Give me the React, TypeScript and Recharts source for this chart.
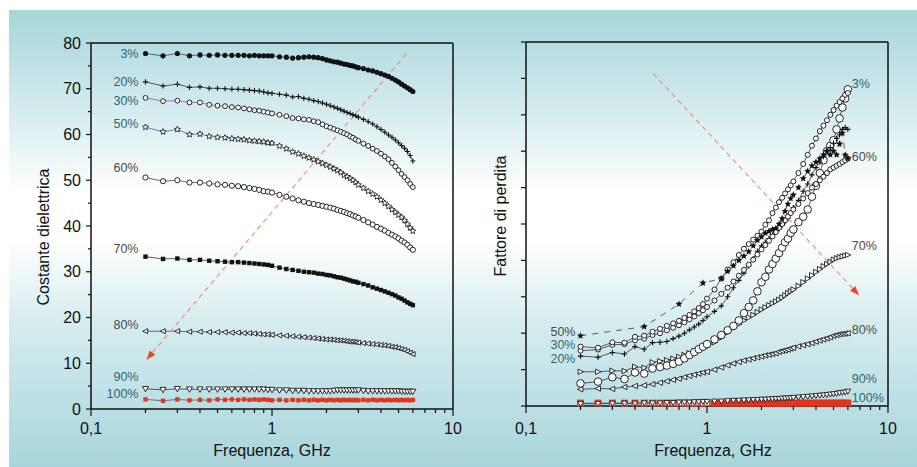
import { LineChart, Line, XAxis, YAxis, ReferenceLine, ReferenceDot } from 'recharts';

// frequencies (GHz)
const F = [
  0.2, 0.25, 0.3, 0.35, 0.4, 0.45, 0.5, 0.55, 0.6, 0.65, 0.7, 0.75, 0.8, 0.85, 0.9, 0.95, 1.0,
  1.1, 1.2, 1.3, 1.4, 1.5, 1.6, 1.7, 1.8, 1.9, 2.0, 2.1, 2.2, 2.3, 2.4, 2.5, 2.6, 2.7, 2.8, 2.9, 3.0,
  3.2, 3.4, 3.6, 3.8, 4.0, 4.2, 4.4, 4.6, 4.8, 5.0, 5.2, 5.4, 5.6, 5.8, 6.0,
];

// costante dielettrica
const EPS_3 = [
  77.7, 77.2, 77.7, 77.2, 77.4, 77.3, 77.4, 77.3, 77.3, 77.3, 77.3, 77.2, 77.3, 77.2, 77.2, 77.2, 77.2,
  77.0, 76.9, 76.7, 76.8, 76.9, 77.0, 76.9, 76.8, 76.6, 76.3, 76.1, 75.9, 75.8, 75.6, 75.4, 75.3, 75.1, 75.0, 74.8, 74.6,
  74.4, 74.1, 73.9, 73.6, 73.3, 73.0, 72.7, 72.3, 71.9, 71.5, 71.0, 70.6, 70.2, 69.8, 69.4,
];
const EPS_20 = [
  71.5, 70.6, 71.0, 70.3, 70.4, 70.1, 70.1, 70.0, 69.9, 69.9, 69.8, 69.7, 69.6, 69.5, 69.3, 69.1, 69.0,
  68.8, 68.6, 68.2, 68.3, 67.9, 67.7, 67.4, 67.2, 66.9, 66.6, 66.3, 66.0, 65.7, 65.4, 65.1, 64.8, 64.6, 64.3, 64.1, 63.8,
  63.3, 62.8, 62.3, 61.7, 61.1, 60.5, 59.9, 59.4, 58.8, 58.2, 57.6, 57.0, 56.3, 55.4, 54.2,
];
const EPS_30 = [
  68.0, 67.3, 67.4, 67.0, 67.0, 66.5, 66.3, 66.2, 66.0, 65.9, 65.7, 65.5, 65.3, 65.2, 65.0, 64.8, 64.6,
  64.3, 64.0, 63.6, 63.5, 63.3, 63.2, 62.9, 62.7, 62.2, 61.8, 61.5, 61.2, 60.9, 60.6, 60.3, 60.0, 59.6, 59.3, 58.9, 58.6,
  58.0, 57.5, 56.9, 56.4, 55.8, 55.2, 54.6, 53.8, 53.0, 52.2, 51.4, 50.7, 50.0, 49.2, 48.5,
];
const EPS_50 = [
  61.6, 60.6, 61.1, 60.0, 60.1, 59.6, 59.4, 59.3, 59.1, 59.0, 58.9, 58.7, 58.6, 58.5, 58.4, 58.2, 58.1,
  57.5, 56.9, 56.2, 55.8, 55.3, 54.9, 54.5, 54.1, 53.7, 53.3, 52.9, 52.5, 52.1, 51.7, 51.1, 50.8, 50.4, 50.0, 49.5, 49.0,
  48.3, 47.6, 47.0, 46.4, 45.7, 45.0, 44.3, 43.6, 43.0, 42.4, 41.9, 41.2, 40.4, 39.6, 38.9,
];
const EPS_60 = [
  50.6, 49.8, 50.0, 49.5, 49.5, 49.3, 49.1, 49.0, 48.8, 48.7, 48.5, 48.3, 48.1, 47.9, 47.6, 47.5, 47.3,
  46.8, 46.4, 46.0, 45.6, 45.3, 45.0, 44.8, 44.6, 44.4, 44.2, 44.0, 43.8, 43.5, 43.3, 43.1, 42.8, 42.6, 42.3, 42.1, 41.8,
  41.3, 40.8, 40.3, 39.8, 39.4, 39.0, 38.5, 38.1, 37.7, 37.3, 36.8, 36.4, 35.9, 35.3, 34.8,
];
const EPS_70 = [
  33.3, 32.8, 32.9, 32.6, 32.6, 32.4, 32.3, 32.2, 32.1, 32.1, 32.0, 31.9, 31.8, 31.7, 31.6, 31.5, 31.3,
  30.9, 30.6, 30.4, 30.2, 30.0, 29.9, 29.8, 29.6, 29.5, 29.3, 29.2, 29.0, 28.8, 28.7, 28.5, 28.3, 28.1, 27.9, 27.8, 27.6,
  27.3, 27.0, 26.6, 26.3, 26.0, 25.7, 25.4, 25.1, 24.8, 24.4, 24.1, 23.7, 23.3, 23.0, 22.7,
];
const EPS_80 = [
  17.0, 17.0, 17.0, 16.9, 16.9, 16.8, 16.8, 16.8, 16.7, 16.7, 16.6, 16.6, 16.5, 16.4, 16.3, 16.3, 16.2,
  16.1, 16.0, 15.9, 15.8, 15.7, 15.6, 15.5, 15.4, 15.3, 15.2, 15.2, 15.1, 15.0, 15.0, 14.9, 14.8, 14.7, 14.7, 14.6, 14.5,
  14.4, 14.3, 14.2, 14.1, 14.0, 13.9, 13.8, 13.6, 13.5, 13.3, 13.1, 12.9, 12.6, 12.3, 12.0,
];
const EPS_90 = [
  4.4, 4.2, 4.4, 4.3, 4.3, 4.3, 4.3, 4.3, 4.3, 4.3, 4.3, 4.3, 4.3, 4.3, 4.3, 4.2, 4.2,
  4.1, 4.1, 4.0, 4.0, 4.0, 3.9, 3.9, 3.9, 3.9, 3.9, 3.9, 4.0, 4.1, 4.1, 4.1, 4.1, 4.1, 4.1, 4.1, 4.1,
  4.0, 3.9, 3.9, 3.9, 3.9, 3.9, 3.9, 3.9, 3.9, 3.9, 3.8, 3.8, 3.8, 3.8, 3.8,
];
const EPS_100 = [
  2.1, 1.8, 2.1, 1.9, 2.0, 1.9, 2.1, 2.0, 2.1, 2.0, 2.1, 2.0, 2.1, 2.0, 2.1, 2.0, 1.9,
  2.0, 1.9, 2.0, 1.9, 2.0, 1.9, 2.0, 1.9, 2.0, 1.9, 2.0, 1.9, 2.0, 1.9, 2.0, 1.9, 2.0, 1.9, 2.0, 1.9,
  2.0, 1.9, 2.0, 1.9, 2.0, 1.9, 2.0, 1.9, 2.0, 1.9, 2.0, 1.9, 2.0, 1.9, 2.0,
];

// fattore di perdita (scala arbitraria 0-10)
const LOSS_3 = [
  0.62, 0.67, 0.79, 0.74, 0.92, 0.89, 1.03, 1.07, 1.11, 1.16, 1.22, 1.31, 1.4, 1.48, 1.56, 1.63, 1.7,
  1.83, 1.95, 2.08, 2.2, 2.35, 2.55, 2.72, 2.9, 3.15, 3.4, 3.55, 3.75, 3.9, 4.05, 4.2, 4.35, 4.5, 4.6, 4.75, 4.85,
  5.05, 5.2, 5.4, 5.75, 6.05, 6.4, 6.75, 7.0, 7.15, 7.3, 7.6, 7.9, 8.2, 8.45, 8.7,
];
const LOSS_20 = [
  1.37, 1.34, 1.47, 1.43, 1.63, 1.56, 1.74, 1.75, 1.77, 1.85, 1.92, 2.0, 2.09, 2.17, 2.25, 2.35, 2.45,
  2.6, 2.75, 3.0, 3.25, 3.45, 3.65, 3.85, 4.05, 4.25, 4.4, 4.5, 4.6, 4.7, 4.78, 4.86, 4.96, 5.06, 5.16, 5.3, 5.45,
  5.65, 5.9, 6.1, 6.35, 6.55, 6.7, 6.85, 7.0, 7.1, 7.22, 7.35, 7.45, 7.6, 7.65, 7.6,
];
const LOSS_30 = [
  1.63, 1.6, 1.75, 1.74, 1.9, 1.93, 2.04, 2.12, 2.2, 2.27, 2.34, 2.42, 2.5, 2.6, 2.69, 2.8, 2.95,
  3.2, 3.5, 3.75, 3.95, 4.15, 4.32, 4.45, 4.57, 4.68, 4.79, 4.98, 5.1, 5.3, 5.45, 5.6, 5.72, 5.84, 5.95, 6.06, 6.17,
  6.4, 6.65, 6.9, 7.15, 7.35, 7.55, 7.7, 7.85, 8.0, 8.13, 8.25, 8.35, 8.45, 8.55, 8.6,
];
const LOSS_50 = [
  1.93, null, null, null, null, 2.18, null, null, null, null, 2.8, null, null, null, null, 3.38, null,
  null, 3.5, 3.7, 3.85, 4.0, 4.12, 4.24, 4.4, 4.55, 4.65, 4.75, 4.8, 4.85, 4.88, 5.0, 5.15, 5.35, 5.55, 5.7, 5.8,
  6.0, 6.25, 6.45, 6.6, 6.7, 6.8, 6.9, 7.0, 6.9, 7.0, 6.9, 7.2, 7.5, 6.9, 6.8,
];
const LOSS_60 = [
  1.52, 1.55, 1.68, 1.7, 1.8, 1.85, 1.95, 2.0, 2.08, 2.15, 2.22, 2.3, 2.38, 2.46, 2.55, 2.63, 2.72,
  2.9, 3.08, 3.25, 3.42, 3.58, 3.74, 3.88, 4.02, 4.16, 4.3, 4.42, 4.54, 4.66, 4.78, 4.9, 5.0, 5.1, 5.2, 5.3, 5.4,
  5.55, 5.7, 5.85, 6.0, 6.1, 6.2, 6.3, 6.4, 6.5, 6.55, 6.6, 6.65, 6.7, 6.75, 6.8,
];
const LOSS_70 = [
  0.94, 0.94, 0.97, 0.96, 1.08, 1.05, 1.2, 1.23, 1.26, 1.3, 1.35, 1.4, 1.45, 1.5, 1.55, 1.59, 1.63,
  1.75, 1.88, 2.02, 2.15, 2.25, 2.35, 2.43, 2.5, 2.58, 2.65, 2.71, 2.77, 2.82, 2.87, 2.92, 2.98, 3.04, 3.1, 3.15, 3.2,
  3.3, 3.4, 3.5, 3.59, 3.68, 3.76, 3.84, 3.9, 3.96, 4.02, 4.06, 4.09, 4.11, 4.13, 4.15,
];
const LOSS_80 = [
  0.46, 0.48, 0.47, 0.52, 0.55, 0.57, 0.6, 0.64, 0.68, 0.72, 0.75, 0.79, 0.83, 0.86, 0.89, 0.92, 0.94,
  1.0, 1.06, 1.12, 1.17, 1.21, 1.25, 1.28, 1.31, 1.34, 1.36, 1.39, 1.41, 1.43, 1.45, 1.49, 1.51, 1.53, 1.55, 1.58, 1.6,
  1.64, 1.67, 1.7, 1.73, 1.77, 1.8, 1.83, 1.86, 1.89, 1.93, 1.95, 1.97, 1.98, 1.99, 2.0,
];
const LOSS_90 = [
  0.06, 0.06, 0.07, 0.07, 0.07, 0.08, 0.08, 0.08, 0.09, 0.09, 0.1, 0.1, 0.1, 0.11, 0.11, 0.12, 0.12,
  0.13, 0.13, 0.14, 0.15, 0.15, 0.16, 0.16, 0.17, 0.17, 0.18, 0.18, 0.19, 0.19, 0.2, 0.2, 0.21, 0.21, 0.22, 0.22, 0.23,
  0.24, 0.25, 0.26, 0.27, 0.28, 0.29, 0.3, 0.31, 0.32, 0.33, 0.34, 0.36, 0.37, 0.38, 0.4,
];
const LOSS_100 = [
  0.08, 0.08, 0.08, 0.08, 0.08, 0.08, 0.08, 0.08, 0.08, 0.08, 0.08, 0.08, 0.08, 0.08, 0.08, 0.08, 0.08,
  0.08, 0.08, 0.08, 0.08, 0.08, 0.08, 0.08, 0.08, 0.08, 0.08, 0.08, 0.08, 0.08, 0.08, 0.08, 0.08, 0.08, 0.08, 0.08, 0.08,
  0.08, 0.08, 0.08, 0.08, 0.08, 0.08, 0.08, 0.08, 0.08, 0.08, 0.08, 0.08, 0.08, 0.08, 0.08,
];

const X_TICKS = [0.1, 0.2, 0.3, 0.4, 0.5, 0.6, 0.7, 0.8, 0.9, 1, 2, 3, 4, 5, 6, 7, 8, 9, 10];
const X_MAJOR = [0.1, 1, 10];
const EPS_TICKS = [0, 5, 10, 15, 20, 25, 30, 35, 40, 45, 50, 55, 60, 65, 70, 75, 80];
const LOSS_TICKS = [0, 1, 2, 3, 4, 5, 6, 7, 8, 9, 10];

// curve tags (data coordinates)
const EPS_TAGS = [
  { text: '3%', f: 0.2, v: 77.6, side: 'left', tone: 'teal' },
  { text: '20%', f: 0.2, v: 71.5, side: 'left', tone: 'teal' },
  { text: '30%', f: 0.2, v: 67.4, side: 'left', tone: 'teal' },
  { text: '50%', f: 0.2, v: 62.3, side: 'left', tone: 'teal' },
  { text: '60%', f: 0.2, v: 52.7, side: 'left', tone: 'gray' },
  { text: '70%', f: 0.2, v: 35.0, side: 'left', tone: 'gray' },
  { text: '80%', f: 0.2, v: 18.4, side: 'left', tone: 'gray' },
  { text: '90%', f: 0.2, v: 7.1, side: 'left', tone: 'teal' },
  { text: '100%', f: 0.2, v: 3.3, side: 'left', tone: 'teal' },
];
const LOSS_TAGS = [
  { text: '50%', f: 0.2, v: 2.04, side: 'left', tone: 'gray' },
  { text: '30%', f: 0.2, v: 1.68, side: 'left', tone: 'teal' },
  { text: '20%', f: 0.2, v: 1.31, side: 'left', tone: 'teal' },
  { text: '3%', f: 6, v: 8.87, side: 'right', tone: 'teal' },
  { text: '60%', f: 6, v: 6.85, side: 'right', tone: 'gray' },
  { text: '70%', f: 6, v: 4.42, side: 'right', tone: 'gray' },
  { text: '80%', f: 6, v: 2.09, side: 'right', tone: 'gray' },
  { text: '90%', f: 6, v: 0.76, side: 'right', tone: 'teal' },
  { text: '100%', f: 6, v: 0.23, side: 'right', tone: 'teal' },
];

// dashed arrows: [tip, tail]
const EPS_ARROW = [{ x: 0.203, y: 10.8 }, { x: 5.57, y: 77.8 }];
const LOSS_ARROW = [{ x: 6.9, y: 3.05 }, { x: 0.49, y: 9.2 }];

const INK = '#111';
const FONT = '"Liberation Sans", Arial, Helvetica, sans-serif';
const TONES: Record<string, string> = { teal: '#2d6870', gray: '#4a4a4a' };

const epsRows = F.map((f, i) => ({
  f,
  e3: EPS_3[i], e20: EPS_20[i], e30: EPS_30[i], e50: EPS_50[i], e60: EPS_60[i],
  e70: EPS_70[i], e80: EPS_80[i], e90: EPS_90[i], e100: EPS_100[i],
}));
const lossRows = F.map((f, i) => ({
  f,
  l3: LOSS_3[i], l20: LOSS_20[i], l30: LOSS_30[i], l50: LOSS_50[i], l60: LOSS_60[i],
  l70: LOSS_70[i], l80: LOSS_80[i], l90: LOSS_90[i], l100: LOSS_100[i],
}));

function starPath(cx: number, cy: number, R: number) {
  const pts: string[] = [];
  for (let i = 0; i < 10; i++) {
    const rr = i % 2 === 0 ? R : R * 0.45;
    const a = -Math.PI / 2 + (i * Math.PI) / 5;
    pts.push(`${(cx + rr * Math.cos(a)).toFixed(2)},${(cy + rr * Math.sin(a)).toFixed(2)}`);
  }
  return `M${pts.join('L')}Z`;
}

const mark = (shape: string, s: number) => (p: any) => {
  const { cx, cy, index, payload } = p;
  const k = `${shape}-${index}`;
  if (cx == null || cy == null || !isFinite(cx) || !isFinite(cy)) return <g key={k} />;
  switch (shape) {
    case 'dot':
      return <circle key={k} cx={cx} cy={cy} r={s} fill={INK} />;
    case 'circ':
      return <circle key={k} cx={cx} cy={cy} r={s} fill="#fff" stroke="#1a1a1a" strokeWidth={0.95} />;
    case 'plus':
      return <path key={k} d={`M${cx - s},${cy}H${cx + s}M${cx},${cy - s}V${cy + s}`} stroke={INK} strokeWidth={1.1} />;
    case 'starO':
      return <path key={k} d={starPath(cx, cy, s)} fill="#fff" stroke="#1a1a1a" strokeWidth={0.85} />;
    case 'starF':
      return <path key={k} d={starPath(cx, cy, s)} fill={INK} />;
    case 'sq':
      return <rect key={k} x={cx - s} y={cy - s} width={2 * s} height={2 * s} fill={INK} />;
    case 'sqRed':
      return <rect key={k} x={cx - s} y={cy - s} width={2 * s} height={2 * s} fill="#e8341f" />;
    case 'sqRedO': {
      const solid = payload && payload.f >= 1.1;
      return (
        <rect key={k} x={cx - s} y={cy - s} width={2 * s} height={2 * s}
          fill={solid ? '#e8341f' : '#fff'} stroke="#e0301e" strokeWidth={1.3} />
      );
    }
    case 'triL':
      return <path key={k} d={`M${cx - s},${cy}L${cx + s * 0.8},${cy - s * 0.9}L${cx + s * 0.8},${cy + s * 0.9}Z`} fill="#fff" stroke="#1a1a1a" strokeWidth={0.9} />;
    case 'triR':
      return <path key={k} d={`M${cx + s},${cy}L${cx - s * 0.8},${cy - s * 0.9}L${cx - s * 0.8},${cy + s * 0.9}Z`} fill="#fff" stroke="#1a1a1a" strokeWidth={0.9} />;
    case 'triD':
      return <path key={k} d={`M${cx - s},${cy - s * 0.8}L${cx + s},${cy - s * 0.8}L${cx},${cy + s}Z`} fill="#fff" stroke="#1a1a1a" strokeWidth={0.9} />;
    default:
      return <g key={k} />;
  }
};

const EPS_SERIES = [
  { key: 'e100', shape: 'sqRed', size: 2.2, stroke: '#555' },
  { key: 'e90', shape: 'triD', size: 3, stroke: '#333' },
  { key: 'e80', shape: 'triL', size: 2.8, stroke: '#444' },
  { key: 'e70', shape: 'sq', size: 2.2, stroke: '#333' },
  { key: 'e60', shape: 'circ', size: 2.6, stroke: '#444' },
  { key: 'e50', shape: 'starO', size: 3.2, stroke: '#4060a8' },
  { key: 'e30', shape: 'circ', size: 2.4, stroke: '#8c5aa0' },
  { key: 'e20', shape: 'plus', size: 2.6, stroke: '#333' },
  { key: 'e3', shape: 'dot', size: 2.6, stroke: '#2f4a50' },
];
const LOSS_SERIES = [
  { key: 'l100', shape: 'sqRedO', size: 2.8, stroke: '#2d6870' },
  { key: 'l90', shape: 'triD', size: 2.8, stroke: '#333' },
  { key: 'l80', shape: 'triL', size: 3, stroke: '#333' },
  { key: 'l70', shape: 'triR', size: 3, stroke: '#333' },
  { key: 'l3', shape: 'circ', size: 3.8, stroke: '#333' },
  { key: 'l20', shape: 'plus', size: 2.7, stroke: '#333' },
  { key: 'l60', shape: 'circ', size: 2.5, stroke: '#333' },
  { key: 'l30', shape: 'circ', size: 2.5, stroke: '#333' },
  { key: 'l50', shape: 'starF', size: 3.7, stroke: '#333', dash: '6 6' },
];

const fmtX = (v: number) => (v === 0.1 ? '0,1' : String(v));

const bottomTick = (labelDy: number) => (p: any) => {
  const v = p.payload.value;
  const major = X_MAJOR.includes(v);
  return (
    <g>
      <line x1={p.x} x2={p.x} y1={p.y} y2={p.y + (major ? 7 : 4)} stroke={INK} strokeWidth={1.2} />
      {major && (
        <text x={p.x} y={p.y + labelDy} textAnchor="middle" fontSize={16} fill={INK}>
          {fmtX(v)}
        </text>
      )}
    </g>
  );
};

const topTick = (p: any) => {
  const major = X_MAJOR.includes(p.payload.value);
  return <line x1={p.x} x2={p.x} y1={p.y} y2={p.y - (major ? 7 : 4)} stroke={INK} strokeWidth={1.2} />;
};

const epsLeftTick = (p: any) => {
  const v = p.payload.value;
  const major = v % 10 === 0;
  return (
    <g>
      <line x1={p.x} x2={p.x - (major ? 5 : 3)} y1={p.y} y2={p.y} stroke={INK} strokeWidth={1.2} />
      {major && (
        <text x={p.x - 10} y={p.y + 5.6} textAnchor="end" fontSize={16} fill={INK}>
          {v}
        </text>
      )}
    </g>
  );
};

const sideTick = (dir: number, len: number) => (p: any) => (
  <line x1={p.x} x2={p.x + dir * len} y1={p.y} y2={p.y} stroke={INK} strokeWidth={1.2} />
);

const Arrow = (p: any) => {
  const { x1, y1, x2, y2 } = p;
  const ang = Math.atan2(y1 - y2, x1 - x2);
  const L = 9;
  const W = 3.6;
  const bx = x1 - L * Math.cos(ang);
  const by = y1 - L * Math.sin(ang);
  const nx = -Math.sin(ang) * W;
  const ny = Math.cos(ang) * W;
  return (
    <g>
      <line x1={x1} y1={y1} x2={x2} y2={y2} stroke="#f3906e" strokeWidth={1.2} strokeDasharray="5 4" />
      <path d={`M${x1},${y1}L${bx + nx},${by + ny}L${bx - nx},${by - ny}Z`} fill="#ea4526" />
    </g>
  );
};

const axisLine = { stroke: INK, strokeWidth: 1.5 };

function renderTags(tags: typeof EPS_TAGS, offL: number, offR: number) {
  return tags.map((t) => (
    <ReferenceDot
      key={t.text + t.side}
      x={t.f}
      y={t.v}
      r={0}
      fill="none"
      stroke="none"
      label={{
        value: t.text,
        position: t.side as any,
        offset: t.side === 'left' ? offL : offR,
        fill: TONES[t.tone],
        fontSize: 12.5,
      }}
    />
  ));
}

const titleStyle: React.CSSProperties = {
  position: 'absolute',
  fontSize: 16,
  lineHeight: 1,
  whiteSpace: 'nowrap',
  color: INK,
};

export default function App() {
  return (
    <div style={{ width: 917, height: 467, position: 'relative', background: '#fff', fontFamily: FONT, overflow: 'hidden' }}>
      <style>{'body{margin:0}'}</style>
      <div
        style={{
          position: 'absolute',
          left: 9,
          top: 10,
          right: 0,
          bottom: 0,
          background:
            'linear-gradient(to bottom, #a6d5da 0%, #d4ecee 22%, #ffffff 40%, #ffffff 50%, #d6edef 68%, #a8d5db 100%)',
        }}
      />

      <div style={{ position: 'absolute', left: 0, top: 0 }}>
        <LineChart width={470} height={467} data={epsRows} margin={{ top: 33, right: 7, bottom: 28, left: 31 }}>
          <XAxis
            dataKey="f" type="number" scale="log" domain={[0.1, 10]} ticks={X_TICKS} interval={0}
            tickSize={0} tickMargin={0} tickLine={false} axisLine={axisLine} tick={bottomTick(25)} height={30}
          />
          <XAxis
            xAxisId="top" orientation="top" type="number" scale="log" domain={[0.1, 10]} ticks={X_TICKS}
            interval={0} tickSize={0} tickMargin={0} tickLine={false} axisLine={axisLine} tick={topTick} height={10}
          />
          <YAxis
            type="number" domain={[0, 80]} ticks={EPS_TICKS} interval={0} tickSize={0} tickMargin={0}
            tickLine={false} axisLine={axisLine} tick={epsLeftTick} width={60}
          />
          <YAxis
            yAxisId="r" orientation="right" type="number" domain={[0, 80]} ticks={EPS_TICKS} interval={0}
            tickSize={0} tickMargin={0} tickLine={false} axisLine={axisLine} tick={sideTick(1, 5)} width={10}
          />
          {EPS_SERIES.map((s) => (
            <Line
              key={s.key}
              dataKey={s.key}
              type="linear"
              stroke={s.stroke}
              strokeWidth={0.8}
              dot={mark(s.shape, s.size)}
              activeDot={false}
              isAnimationActive={false}
              legendType="none"
            />
          ))}
          {renderTags(EPS_TAGS, 7, 4)}
          <ReferenceLine segment={EPS_ARROW} shape={Arrow} ifOverflow="visible" />
        </LineChart>
      </div>

      <div style={{ position: 'absolute', left: 460, top: 0 }}>
        <LineChart width={457} height={467} data={lossRows} margin={{ top: 32, right: 19, bottom: 31, left: 26 }}>
          <XAxis
            dataKey="f" type="number" scale="log" domain={[0.1, 10]} ticks={X_TICKS} interval={0}
            tickSize={0} tickMargin={0} tickLine={false} axisLine={axisLine} tick={bottomTick(28)} height={30}
          />
          <XAxis
            xAxisId="top" orientation="top" type="number" scale="log" domain={[0.1, 10]} ticks={X_TICKS}
            interval={0} tickSize={0} tickMargin={0} tickLine={false} axisLine={axisLine} tick={topTick} height={10}
          />
          <YAxis
            type="number" domain={[0, 10]} ticks={LOSS_TICKS} interval={0} tickSize={0} tickMargin={0}
            tickLine={false} axisLine={axisLine} tick={sideTick(-1, 5)} width={40}
          />
          <YAxis
            yAxisId="r" orientation="right" type="number" domain={[0, 10]} ticks={LOSS_TICKS} interval={0}
            tickSize={0} tickMargin={0} tickLine={false} axisLine={axisLine} tick={sideTick(1, 5)} width={10}
          />
          {LOSS_SERIES.map((s) => (
            <Line
              key={s.key}
              dataKey={s.key}
              type="linear"
              stroke={s.stroke}
              strokeWidth={0.8}
              strokeDasharray={s.dash}
              connectNulls={s.key === 'l50'}
              dot={mark(s.shape, s.size)}
              activeDot={false}
              isAnimationActive={false}
              legendType="none"
            />
          ))}
          {renderTags(LOSS_TAGS, 5, 4)}
          <ReferenceLine segment={LOSS_ARROW} shape={Arrow} ifOverflow="visible" />
        </LineChart>
      </div>

      <div style={{ ...titleStyle, left: 44, top: 237, transform: 'translate(-50%, -50%) rotate(-90deg)' }}>
        Costante dielettrica
      </div>
      <div style={{ ...titleStyle, left: 501, top: 216, transform: 'translate(-50%, -50%) rotate(-90deg)' }}>
        Fattore di perdita
      </div>
      <div style={{ ...titleStyle, left: 272, top: 451, transform: 'translate(-50%, -50%)' }}>Frequenza, GHz</div>
      <div style={{ ...titleStyle, left: 713, top: 451, transform: 'translate(-50%, -50%)' }}>Frequenza, GHz</div>
    </div>
  );
}
